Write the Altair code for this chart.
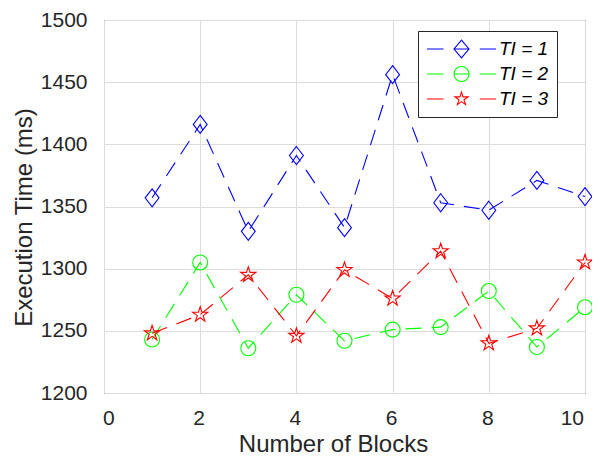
import altair as alt
import pandas as pd

# ---- data ----
blocks = [1, 2, 3, 4, 5, 6, 7, 8, 9, 10]
ti1 = [1357, 1416, 1330, 1391, 1333, 1456, 1353, 1347, 1371, 1358]
ti2 = [1243, 1305, 1236, 1279, 1242, 1251, 1253, 1282, 1237, 1269]
ti3 = [1248, 1263, 1295, 1246, 1299, 1276, 1314, 1240, 1252, 1305]
series_names = ["TI = 1", "TI = 2", "TI = 3"]
series_colors = ["#0000ff", "#00ff00", "#ff0000"]
x_ticks = [0, 2, 4, 6, 8, 10]
y_ticks = [1200, 1250, 1300, 1350, 1400, 1450, 1500]

# ---- marker shapes (style) ----
diamond = "M0,-1L0.77,0L0,1L-0.77,0Z"
star = ("M0,-1L0.225,-0.309L0.951,-0.309L0.363,0.118L0.588,0.809L0,0.382"
        "L-0.588,0.809L-0.363,0.118L-0.951,-0.309L-0.225,-0.309Z")
marker_shapes = [diamond, "circle", star]
marker_sizes = [324, 225, 256]

# legend glyphs: dashed line with marker in the middle
leg_dash = "M-1,0H-0.52M0.53,0H1"
leg_mid = "M-0.23,0H0.23"
legend_paths = [
    leg_dash + leg_mid + "M0,-0.26L0.217,0L0,0.26L-0.217,0Z",
    leg_dash + leg_mid + "M-0.217,0A0.217,0.217,0,1,1,0.217,0A0.217,0.217,0,1,1,-0.217,0Z",
    leg_dash + "M0,-0.2L0.045,-0.062L0.19,-0.062L0.073,0.024L0.118,0.162L0,0.076"
               "L-0.118,0.162L-0.073,0.024L-0.19,-0.062L-0.045,-0.062Z",
]

rows = []
for name, vals in zip(series_names, [ti1, ti2, ti3]):
    for b, v in zip(blocks, vals):
        rows.append({"blocks": b, "time": v, "TI": name})
df = pd.DataFrame(rows)

FONT = "Liberation Sans"

X = alt.X(
    "blocks:Q",
    scale=alt.Scale(domain=[0, 10], nice=False, zero=False),
    axis=alt.Axis(values=x_ticks, format="d", title="Number of Blocks", labelPadding=14,
                  titlePadding=4, titleX=229, labelOffset=-1.5),
)
Y = alt.Y(
    "time:Q",
    scale=alt.Scale(domain=[1200, 1500], nice=False, zero=False),
    axis=alt.Axis(values=y_ticks, format="d", title="Execution Time (ms)", labelPadding=17,
                  titlePadding=4, titleY=197),
)

leg = alt.Legend(
    title=None, orient="none", legendX=314, legendY=11, direction="vertical",
    fillColor="white", strokeColor="#262626", padding=8, cornerRadius=0,
    labelFont=FONT, labelFontSize=19, labelFontStyle="italic", labelColor="black",
    labelOffset=2, symbolSize=4761, symbolStrokeWidth=1.1, symbolOffset=0,
    symbolOpacity=1, clipHeight=20, rowPadding=5, labelLimit=200,
)

legend_layer = alt.Chart(df).transform_filter("false").mark_point(
    filled=False, size=4761, strokeWidth=1.1, opacity=1
).encode(
    x=X, y=Y,
    color=alt.Color("TI:N", scale=alt.Scale(domain=series_names, range=series_colors), legend=leg),
    shape=alt.Shape("TI:N", scale=alt.Scale(domain=series_names, range=legend_paths), legend=leg),
)

layers = [legend_layer]
for name, color, shp, sz in zip(series_names, series_colors, marker_shapes, marker_sizes):
    base = alt.Chart(df).transform_filter(alt.datum.TI == name)
    line = base.mark_line(color=color, strokeDash=[16, 10], strokeWidth=1.1).encode(x=X, y=Y)
    pts = base.mark_point(shape=shp, size=sz, color=color, filled=False,
                          strokeWidth=1.1, opacity=1).encode(x=X, y=Y)
    layers += [line, pts]

chart = alt.layer(*layers).properties(
    width=481, height=373,
    autosize=alt.AutoSizeParams(type="none"),
    padding={"left": 96, "top": 12, "right": 7, "bottom": 62},
).configure_axis(
    labelFont=FONT, labelFontSize=21, labelColor="#262626",
    titleFont=FONT, titleFontSize=24, titleFontWeight="normal", titleColor="#262626",
    gridColor="#dcdcdc", gridWidth=1, domain=False, ticks=False,
).configure_view(
    stroke="#262626", strokeWidth=1,
)

chart.save("out.html", embed_options={"renderer": "svg", "actions": False})
